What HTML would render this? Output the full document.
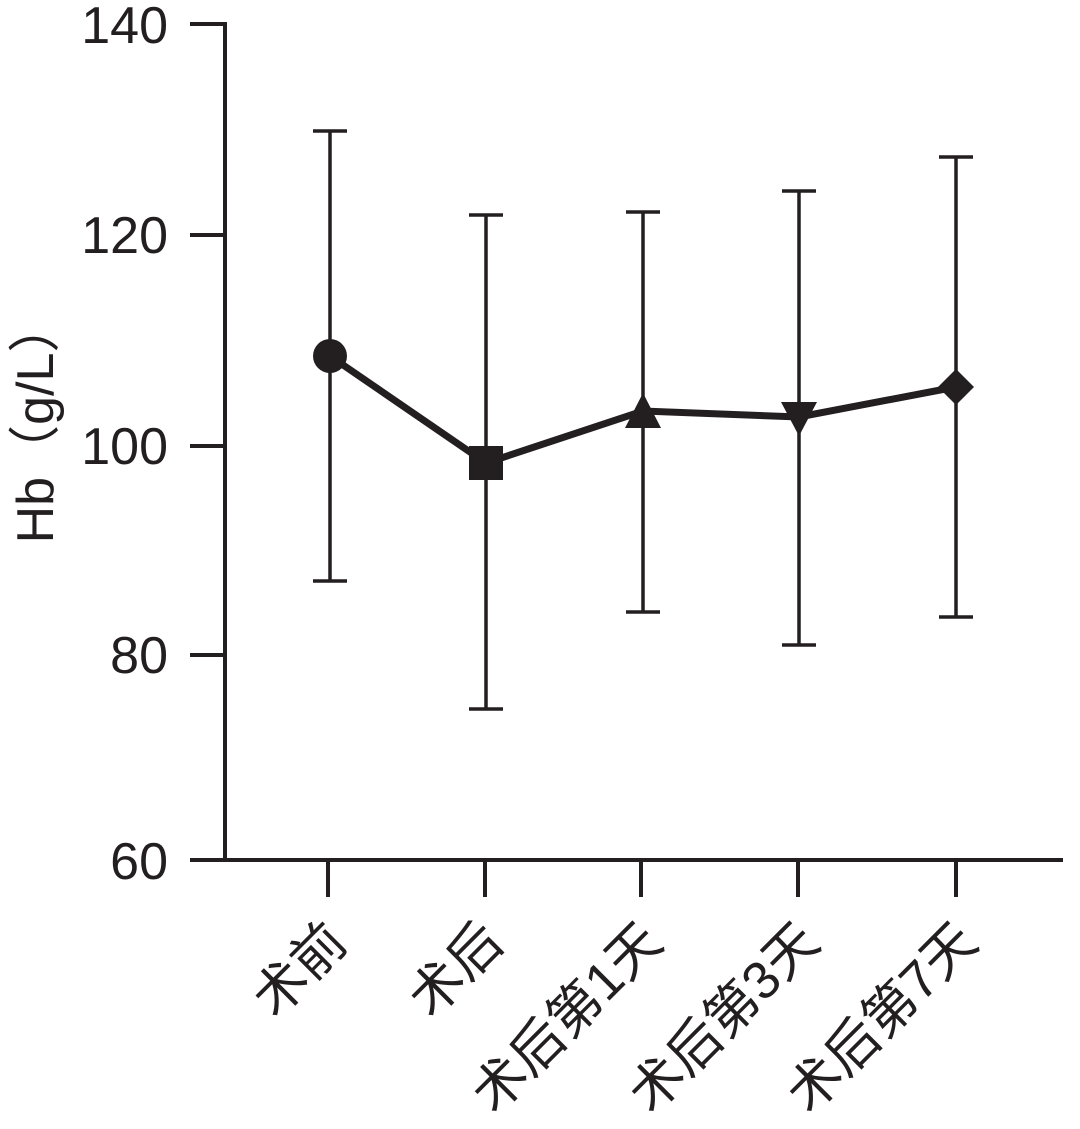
<!DOCTYPE html>
<html><head><meta charset="utf-8"><style>body{margin:0;background:#fff}</style></head><body>
<svg width="1080" height="1124" viewBox="0 0 1080 1124" xmlns="http://www.w3.org/2000/svg" font-family="Liberation Sans, Noto Sans CJK SC, sans-serif" fill="#231f20">
<g stroke="#231f20" stroke-width="4" fill="none">
<line x1="225" y1="22" x2="225" y2="860"/>
<line x1="190" y1="860" x2="1063" y2="860"/>
<line x1="190" y1="24" x2="225" y2="24"/>
<line x1="190" y1="235" x2="225" y2="235"/>
<line x1="190" y1="446" x2="225" y2="446"/>
<line x1="190" y1="655" x2="225" y2="655"/>
<line x1="328" y1="860" x2="328" y2="897"/>
<line x1="485" y1="860" x2="485" y2="897"/>
<line x1="641" y1="860" x2="641" y2="897"/>
<line x1="798" y1="860" x2="798" y2="897"/>
<line x1="956" y1="860" x2="956" y2="897"/>
<g stroke-width="3.5">
<path d="M330 131V581M313 131H347M313 581H347"/>
<path d="M486 215V709M469 215H503M469 709H503"/>
<path d="M643 212V612M626 212H660M626 612H660"/>
<path d="M799 191V645M782 191H816M782 645H816"/>
<path d="M956 157V617M939 157H973M939 617H973"/>
</g>
<polyline stroke-width="7" points="330,356 486,463 643,411 799,417 956,387"/>
</g>
<circle cx="330" cy="356" r="17"/>
<rect x="469" y="446" width="34" height="34"/>
<polygon points="643,393 661,428 625,428"/>
<polygon points="799,436 817,402 781,402"/>
<polygon points="956,369 974,387 956,405 938,387"/>
<g font-size="52" text-anchor="end">
<text x="168" y="43">140</text>
<text x="168" y="253">120</text>
<text x="168" y="464">100</text>
<text x="168" y="673">80</text>
<text x="168" y="879">60</text>
</g>
<text transform="translate(53,422) rotate(-90)" font-size="52" text-anchor="middle">Hb（g/L）</text>
<g font-size="53" text-anchor="end">
<text transform="translate(350,945) rotate(-45)">术前</text>
<text transform="translate(506,945) rotate(-45)">术后</text>
<text transform="translate(665,945) rotate(-45)">术后第1天</text>
<text transform="translate(822,945) rotate(-45)">术后第3天</text>
<text transform="translate(980,945) rotate(-45)">术后第7天</text>
</g>
</svg>
</body></html>
